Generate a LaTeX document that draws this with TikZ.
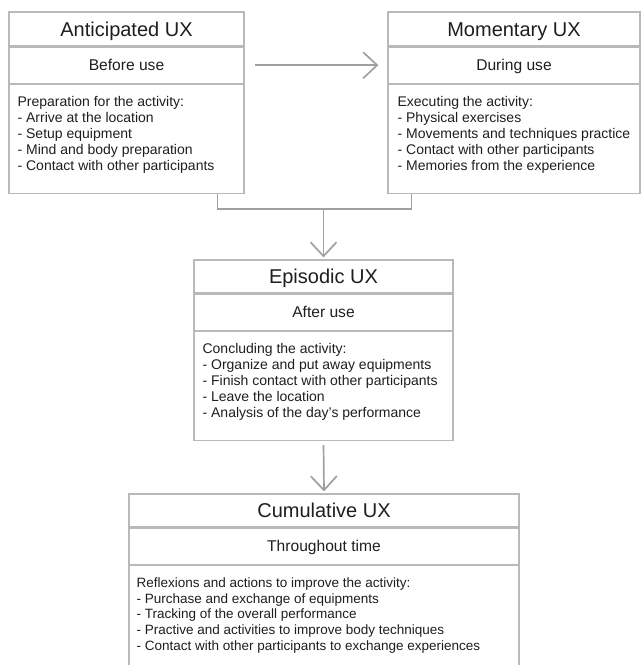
\documentclass[tikz,border=0pt]{standalone}
\usepackage{fontspec}
\setmainfont{Liberation Sans}
\usepackage{tikz}
\usetikzlibrary{arrows.meta,positioning,calc}
\definecolor{uxframe}{RGB}{185,185,185}
\definecolor{uxline}{RGB}{160,160,160}
\definecolor{uxtext}{RGB}{30,30,30}
\tikzset{
  uxtitle/.style={draw=uxframe, line width=1.2pt, inner sep=0pt, minimum height=34pt, text=uxtext, font=\fontsize{20}{24}\selectfont, text height=14.3pt, text depth=0pt},
  uxsub/.style={draw=uxframe, line width=1.2pt, inner sep=0pt, minimum height=36pt, text=uxtext, font=\fontsize{15.6}{18}\selectfont, text height=11.2pt, text depth=0pt},
  uxbody/.style={draw=uxframe, line width=1.2pt, inner sep=0pt},
  uxlist/.style={inner sep=0pt, align=left, text=uxtext, font=\fontsize{14}{16}\selectfont},
  flow/.style={draw=uxline, line width=1.7pt, -{Straight Barb[length=14pt,width=26pt]}},
  link/.style={draw=uxline, line width=1.7pt}
}
\begin{document}
\begin{tikzpicture}[x=1pt,y=1pt]
  \useasboundingbox (0,0) rectangle (644,-665);
  % Anticipated UX
  \node[uxtitle, minimum width=235pt] (antT) at (126.5,-29) {Anticipated UX};
  \node[uxsub, minimum width=235pt, below=0pt of antT] (antS) {Before use};
  \node[uxbody, minimum width=235pt, minimum height=109pt, below=0pt of antS] (antB) {};
  \node[uxlist, below right=12.3pt and 9pt of antB.north west] (antL) {Preparation for the activity:\\
    - Arrive at the location\\
    - Setup equipment\\
    - Mind and body preparation\\
    - Contact with other participants};
  % Momentary UX
  \node[uxtitle, minimum width=252pt] (momT) at (514,-29) {Momentary UX};
  \node[uxsub, minimum width=252pt, below=0pt of momT] (momS) {During use};
  \node[uxbody, minimum width=252pt, minimum height=109pt, below=0pt of momS] (momB) {};
  \node[uxlist, below right=12.3pt and 10pt of momB.north west] (momL) {Executing the activity:\\
    - Physical exercises\\
    - Movements and techniques practice\\
    - Contact with other participants\\
    - Memories from the experience};
  % Episodic UX
  \node[uxtitle, minimum width=259pt, minimum height=33pt] (epiT) at (323.5,-276.5) {Episodic UX};
  \node[uxsub, minimum width=259pt, below=0pt of epiT] (epiS) {After use};
  \node[uxbody, minimum width=259pt, minimum height=109pt, below=0pt of epiS] (epiB) {};
  \node[uxlist, below right=12.3pt and 9pt of epiB.north west] (epiL) {Concluding the activity:\\
    - Organize and put away equipments\\
    - Finish contact with other participants\\
    - Leave the location\\
    - Analysis of the day’s performance};
  % Cumulative UX
  \node[uxtitle, minimum width=390pt, minimum height=33pt] (cumT) at (324,-510.5) {Cumulative UX};
  \node[uxsub, minimum width=390pt, below=0pt of cumT] (cumS) {Throughout time};
  \node[uxbody, minimum width=390pt, minimum height=130pt, below=0pt of cumS] (cumB) {};
  \node[uxlist, font=\fontsize{13.5}{15.7}\selectfont, below right=12.6pt and 8pt of cumB.north west] (cumL) {Reflexions and actions to improve the activity:\\
    - Purchase and exchange of equipments\\
    - Tracking of the overall performance\\
    - Practive and activities to improve body techniques\\
    - Contact with other participants to exchange experiences};
  % Connectors
  \draw[flow, shorten <=10pt, shorten >=9pt] (antS) -- (momS);
  \coordinate (join) at (323.5,-209);
  \draw[link] ([xshift=-27pt]antB.south east) |- (join) -| ([xshift=24pt]momB.south west);
  \draw[flow, shorten >=2pt] (join) -- (epiT.north);
  \draw[flow, shorten <=4pt, shorten >=2pt] (epiB.south) -- (cumT.north);
\end{tikzpicture}
\end{document}
